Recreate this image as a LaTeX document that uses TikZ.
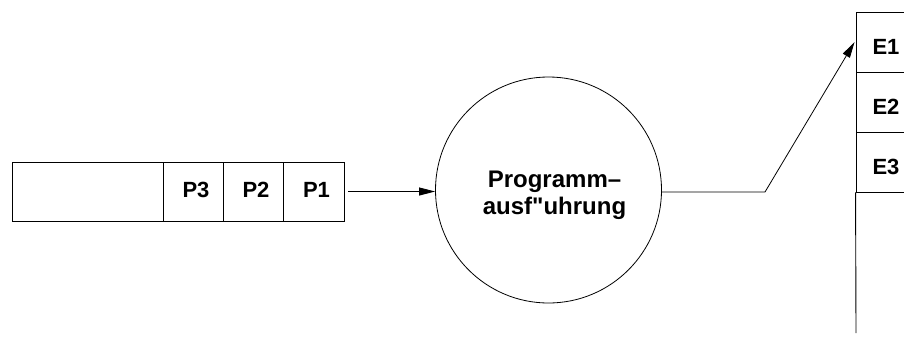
\documentclass[tikz,border=0pt]{standalone}
\usepackage{fontspec}
\newfontfamily\lsans{Liberation Sans}
\usetikzlibrary{arrows.meta}
\begin{document}
\begin{tikzpicture}[x=1pt,y=-1pt,
  every node/.style={font=\lsans\fontsize{22}{22.5}\selectfont\bfseries},
  cell/.style={draw, line width=0.9pt, inner sep=0pt, minimum height=59pt,
    text height=16.6pt, text depth=5pt},
  ecell/.style={draw, line width=0.9pt, inner sep=0pt, minimum height=60pt, minimum width=60pt,
    text height=28pt, text depth=3.4pt},
  conn/.style={line width=0.8pt},
  tip/.style={-{Triangle[length=16pt,width=8pt]}}]
\useasboundingbox (0,0) rectangle (904,338);
% input queue
\node[cell, minimum width=151pt] (q0) at (87.5,191.5) {};
\node[cell, minimum width=60pt] (p3) at (193,191.5) {\hspace*{6pt}P3};
\node[cell, minimum width=60pt] (p2) at (253,191.5) {\hspace*{6pt}P2};
\node[cell, minimum width=61pt] (p1) at (313.5,191.5) {\hspace*{6pt}P1};
% process
\node[draw, circle, line width=0.8pt, minimum size=226pt, inner sep=0pt, align=center,
  font=\lsans\fontsize{24}{27}\selectfont\bfseries] (prog) at (548.5,190)
  {\hspace*{12pt}\rule{0pt}{28pt}Programm–\\\hspace*{12pt}ausf"uhrung};
% output list
\node[ecell] (e1) at (886,42) {E1};
\node[ecell] (e2) at (886,102) {E2};
\node[ecell] (e3) at (886,162) {E3};
\coordinate (eend) at (856,333);
\draw[line width=0.9pt] (e3.south west) -- (eend);
% connectors
\draw[conn, tip, shorten <=4pt] (p1.east) -- (p1.east -| prog.west);
\coordinate (bend) at (765,192);
\draw[conn, tip] (prog.east |- bend) -- (bend) -- ([xshift=-1pt]e1.west);
\end{tikzpicture}
\end{document}
